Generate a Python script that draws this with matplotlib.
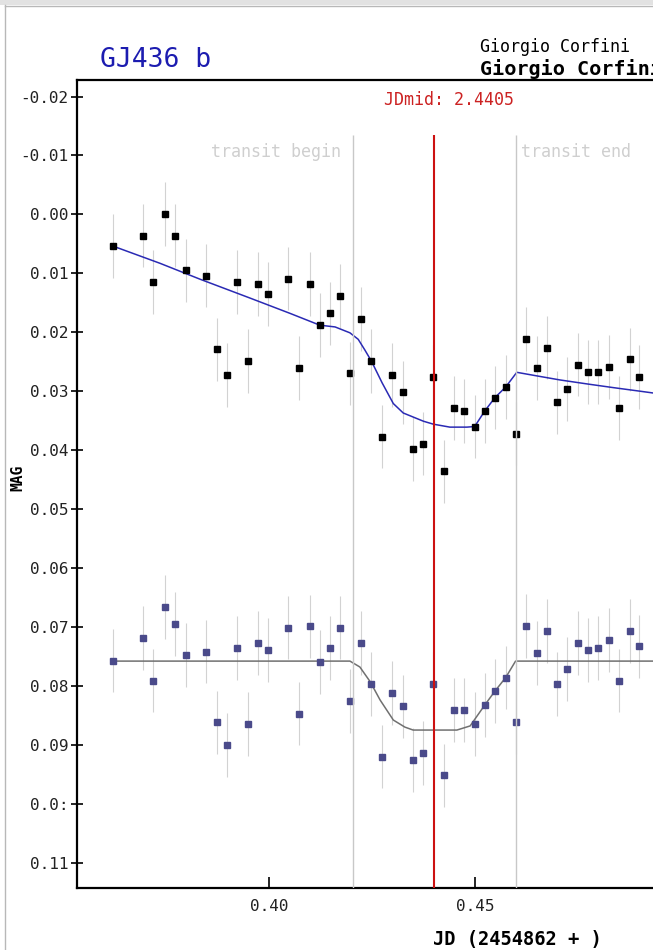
import numpy as np
import matplotlib
matplotlib.use("Agg")
import matplotlib.pyplot as plt
from matplotlib.lines import Line2D
from matplotlib.patches import Rectangle

# observation times (JD - 2454862)
jd = [0.3623, 0.3694, 0.3718, 0.3748, 0.3773, 0.3798, 0.3848, 0.3873, 0.3898, 0.3923,
      0.3948, 0.3973, 0.3998, 0.4046, 0.4073, 0.4099, 0.4123, 0.4148, 0.4173, 0.4196,
      0.4223, 0.4248, 0.4274, 0.4299, 0.4324, 0.4348, 0.4373, 0.4398, 0.4423, 0.4447,
      0.4472, 0.4498, 0.4522, 0.4547, 0.4573, 0.4597, 0.4623, 0.4648, 0.4673, 0.4697,
      0.4722, 0.4748, 0.4772, 0.4797, 0.4823, 0.4848, 0.4873, 0.4896]

# raw magnitudes (upper series)
mag_raw = [0.0054, 0.0036, 0.0115, -0.0001, 0.0036, 0.0095, 0.0104, 0.0229, 0.0272, 0.0115,
           0.0249, 0.0118, 0.0135, 0.0109, 0.0261, 0.0118, 0.0188, 0.0168, 0.0138, 0.0270,
           0.0177, 0.0249, 0.0377, 0.0273, 0.0302, 0.0398, 0.0389, 0.0276, 0.0436, 0.0328,
           0.0334, 0.0360, 0.0334, 0.0311, 0.0293, 0.0372, 0.0211, 0.0261, 0.0226, 0.0319,
           0.0296, 0.0255, 0.0267, 0.0267, 0.0259, 0.0328, 0.0246, 0.0276]

# detrended magnitudes (lower series)
mag_det = [0.0757, 0.0719, 0.0791, 0.0666, 0.0695, 0.0748, 0.0742, 0.0862, 0.0900, 0.0736,
           0.0865, 0.0727, 0.0739, 0.0701, 0.0847, 0.0699, 0.0760, 0.0736, 0.0701, 0.0826,
           0.0727, 0.0797, 0.0920, 0.0812, 0.0835, 0.0926, 0.0914, 0.0797, 0.0952, 0.0841,
           0.0841, 0.0865, 0.0833, 0.0809, 0.0786, 0.0861, 0.0698, 0.0744, 0.0707, 0.0797,
           0.0771, 0.0727, 0.0739, 0.0736, 0.0722, 0.0791, 0.0707, 0.0733]

err = 0.0054

# model curves
fit_raw_jd = [0.3623, 0.3736, 0.3833, 0.3954, 0.4051, 0.4123, 0.4160, 0.4196, 0.4216, 0.4232,
              0.4248, 0.4274, 0.4301, 0.4325, 0.4374, 0.4398, 0.4438, 0.4479, 0.4498, 0.4522,
              0.4547, 0.4573, 0.4600, 0.4648, 0.4705, 0.4773, 0.4834, 0.4898, 0.4971]
fit_raw_mag = [0.0054, 0.0083, 0.0110, 0.0142, 0.0168, 0.0188, 0.0191, 0.0201, 0.0212, 0.0230,
               0.0249, 0.0286, 0.0321, 0.0337, 0.0351, 0.0356, 0.0361, 0.0361, 0.0360, 0.0334,
               0.0311, 0.0293, 0.0268, 0.0274, 0.0281, 0.0288, 0.0294, 0.0300, 0.0307]

fit_det_jd = [0.3623, 0.4196, 0.4220, 0.4245, 0.4269, 0.4301, 0.4329, 0.4349, 0.4455, 0.4487,
              0.4522, 0.4547, 0.4573, 0.4597, 0.4995]
fit_det_mag = [0.0758, 0.0758, 0.0768, 0.0793, 0.0824, 0.0858, 0.0870, 0.0875, 0.0875, 0.0868,
               0.0833, 0.0809, 0.0786, 0.0758, 0.0758]

yticks = [-0.02, -0.01, 0.00, 0.01, 0.02, 0.03, 0.04, 0.05, 0.06, 0.07, 0.08, 0.09, 0.10, 0.11]
ylabels = ["-0.02", "-0.01", "0.00", "0.01", "0.02", "0.03", "0.04", "0.05", "0.06", "0.07",
           "0.08", "0.09", "0.0:", "0.11"]
xticks = [0.40, 0.45]
xlabels = ["0.40", "0.45"]

t_begin = 0.4204
t_end = 0.4597
t_mid = 0.4400

mono = "DejaVu Sans Mono"
W, H = 653, 950

fig = plt.figure(figsize=(W / 100, H / 100), dpi=100, facecolor="white")
# page frame
fig.add_artist(Rectangle((0, 1 - 5 / H), 1, 5 / H, transform=fig.transFigure,
                         facecolor="#e2e2e2", edgecolor="none"))
fig.add_artist(Line2D([4.5 / W, 4.5 / W], [0, 1 - 5 / H], transform=fig.transFigure,
                      color="#b8b8b8", lw=1))
fig.add_artist(Line2D([4.5 / W, 1], [1 - 5.5 / H, 1 - 5.5 / H], transform=fig.transFigure,
                      color="#b8b8b8", lw=1))

ax = fig.add_axes([76.5 / W, 62 / H, 605.5 / W, 808 / H])
ax.set_xlim(0.35339, 0.50)
ax.set_ylim(0.1143, -0.0228)

ax.errorbar(jd, mag_raw, yerr=err, fmt="none", ecolor="#d2d2d2", elinewidth=0.8, zorder=1)
ax.errorbar(jd, mag_det, yerr=err, fmt="none", ecolor="#d2d2d2", elinewidth=0.8, zorder=1)
ax.plot(fit_raw_jd, fit_raw_mag, color="#2a2ab4", lw=1.1, zorder=2)
ax.plot(fit_det_jd, fit_det_mag, color="#707070", lw=1.1, zorder=2)
ax.plot(jd, mag_raw, "s", color="black", ms=4.6, zorder=3)
ax.plot(jd, mag_det, "s", color="#4a4a8a", ms=4.6, zorder=3)

ax.vlines([t_begin, t_end], -0.0135, 0.1143, color="#c8c8c8", lw=1, zorder=4)
ax.vlines([t_mid], -0.0135, 0.1143, color="#cc1111", lw=1.5, zorder=5)

ax.text(t_begin - 0.0030, -0.0106, "transit begin", ha="right", va="center",
        color="#cfcfcf", fontsize=12, family=mono)
ax.text(t_end + 0.0013, -0.0106, "transit end", ha="left", va="center",
        color="#cfcfcf", fontsize=12, family=mono)
ax.text(t_mid + 0.0035, -0.0194, "JDmid: 2.4405", ha="center", va="center",
        color="#cc2222", fontsize=12, family=mono)

ax.set_yticks(yticks)
ax.set_yticklabels(ylabels, family=mono, fontsize=11.5, color="#222222")
ax.set_xticks(xticks)
ax.set_xticklabels(xlabels, family=mono, fontsize=11.5, color="#222222")
ax.tick_params(axis="y", direction="inout", length=9, width=1.2, pad=1)
ax.tick_params(axis="x", direction="in", length=8, width=1.2, pad=8)
for s in ax.spines.values():
    s.set_linewidth(1.6)

fig.text(100 / W, 1 - 60 / H, "GJ436 b", color="#1c1cb0", fontsize=19,
         family=mono, va="center", ha="left")
fig.text(480 / W, 1 - 47 / H, "Giorgio Corfini", color="black", fontsize=12,
         family=mono, va="center", ha="left")
fig.text(480 / W, 1 - 69 / H, "Giorgio Corfini", color="black", fontsize=14.5,
         family=mono, weight="bold", va="center", ha="left")
fig.text(18 / W, 1 - 478 / H, "MAG", color="black", fontsize=10.5, family=mono,
         weight="bold", rotation=90, va="center", ha="center")
fig.text(517 / W, 1 - 940 / H, "JD (2454862 + )", color="black", fontsize=13.5,
         family=mono, weight="bold", va="center", ha="center")

fig.savefig("out.png", dpi=100, facecolor="white")
